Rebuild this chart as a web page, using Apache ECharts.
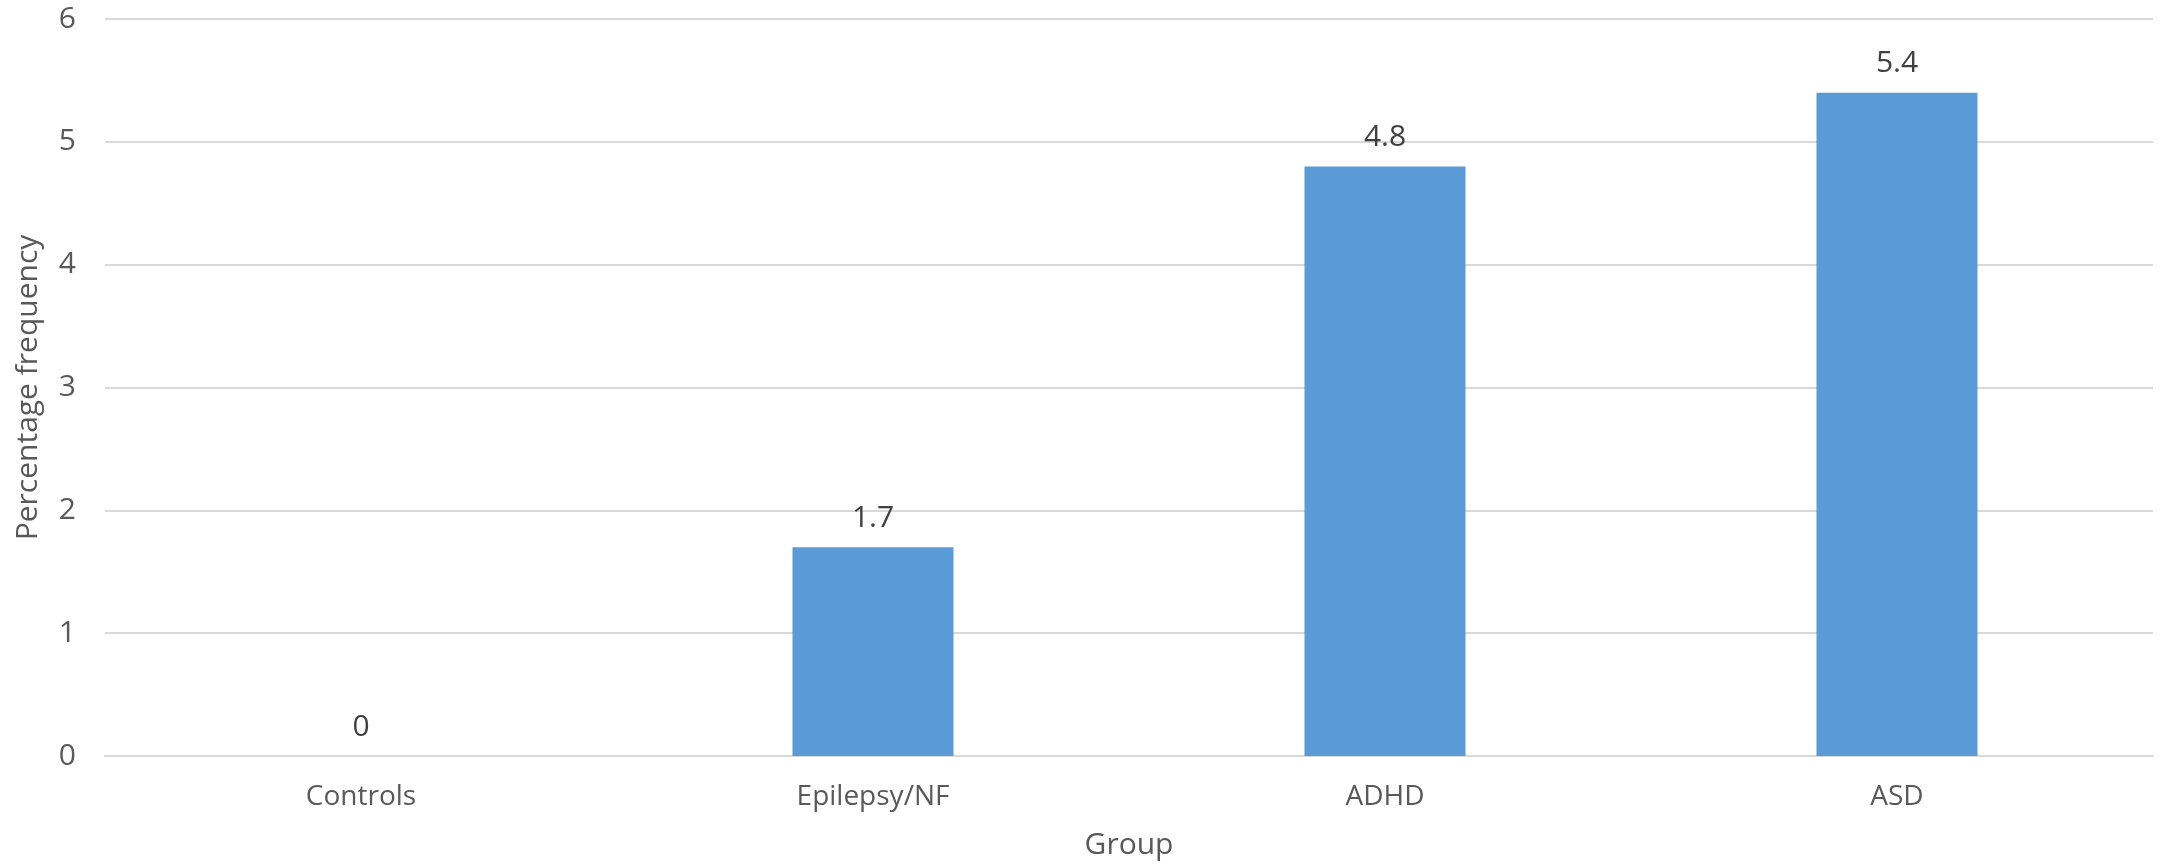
<!DOCTYPE html>
<html>
<head>
<meta charset="utf-8">
<script src="https://cdn.jsdelivr.net/npm/echarts@6/dist/echarts.min.js"></script>
<style>
  html, body { margin: 0; padding: 0; background: #ffffff; }
  #chart { width: 2165px; height: 866px; }
</style>
</head>
<body>
<div id="chart"></div>
<script>
const categories = ['Controls', 'Epilepsy/NF', 'ADHD', 'ASD']
const percentFrequency = [0, 1.7, 4.8, 5.4]

const fontFamily = '"Open Sans", "DejaVu Sans", sans-serif'

const chart = echarts.init(document.getElementById('chart'))

chart.setOption({
  animation: false,
  backgroundColor: '#ffffff',
  grid: {
    left: 105,
    right: 12,
    top: 19,
    bottom: 110,
    outerBoundsMode: 'none'
  },
  xAxis: {
    type: 'category',
    data: categories,
    name: 'Group',
    nameLocation: 'middle',
    nameGap: 74,
    nameTextStyle: {
      color: '#595959',
      fontSize: 30,
      fontFamily
    },
    axisLine: {
      lineStyle: { color: '#d9d9d9', width: 2 }
    },
    axisTick: { show: false },
    axisLabel: {
      color: '#595959',
      fontSize: 28,
      fontFamily,
      margin: 27
    }
  },
  yAxis: {
    type: 'value',
    min: 0,
    max: 6,
    interval: 1,
    name: 'Percentage frequency',
    nameLocation: 'middle',
    nameGap: 62,
    nameTextStyle: {
      color: '#595959',
      fontSize: 30,
      fontFamily
    },
    axisLine: { show: false },
    axisTick: { show: false },
    axisLabel: {
      color: '#595959',
      fontSize: 30,
      fontFamily,
      margin: 29
    },
    splitLine: {
      lineStyle: { color: '#d9d9d9', width: 2 }
    }
  },
  series: [{
    type: 'bar',
    data: percentFrequency,
    barWidth: 161,
    itemStyle: { color: '#5b9bd5' },
    label: {
      show: true,
      position: 'top',
      distance: 14,
      color: '#404040',
      fontSize: 30,
      fontFamily
    }
  }]
})
</script>
</body>
</html>
